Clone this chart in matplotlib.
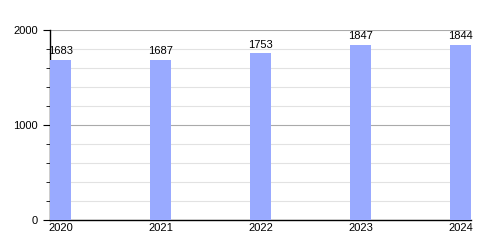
import matplotlib
matplotlib.use("Agg")
import matplotlib.pyplot as plt
from matplotlib.ticker import MultipleLocator

years = ["2020", "2021", "2022", "2023", "2024"]
values = [1683, 1687, 1753, 1847, 1844]

plt.rcParams['font.family'] = ['Liberation Sans', 'DejaVu Sans']

fig = plt.figure(figsize=(5, 2.5), dpi=100)
ax = fig.add_axes([0.1, 0.12, 0.842, 0.76])

pos = list(range(len(years)))
bw = 0.21
bars = ax.bar(pos, values, width=bw, align='edge', color='#99aaff', zorder=3)
for p, v in zip(pos, values):
    ax.text(p + bw / 2, v + 40, str(v), ha='center', va='bottom', fontsize=8, color='black')

ax.set_xlim(0, len(years) - 1 + bw)
ax.set_ylim(0, 2000)
ax.yaxis.set_major_locator(MultipleLocator(1000))
ax.yaxis.set_minor_locator(MultipleLocator(200))
ax.set_xticks([p + bw / 2 for p in pos])
ax.set_xticklabels(years)
ax.grid(axis='y', which='major', color='#aaaaaa', linewidth=0.8, zorder=0)
ax.grid(axis='y', which='minor', color='#e2e2e2', linewidth=0.8, zorder=0)
ax.tick_params(axis='x', length=0, labelsize=8, pad=2)
ax.tick_params(axis='y', which='major', length=5, labelsize=8, direction='out')
ax.tick_params(axis='y', which='minor', length=3, direction='out')
ax.spines['right'].set_visible(False)
ax.spines['top'].set_visible(False)
ax.spines['left'].set_linewidth(1)
ax.spines['bottom'].set_linewidth(1)

fig.savefig("out.png", dpi=100)
